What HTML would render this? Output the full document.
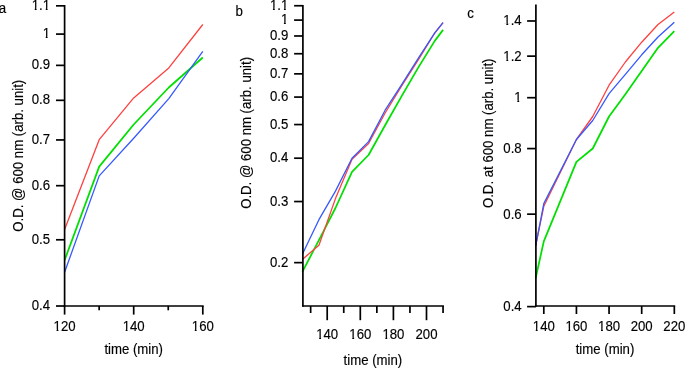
<!DOCTYPE html>
<html><head><meta charset="utf-8"><style>
html,body{margin:0;padding:0;background:#fff;}
svg{display:block;font-family:"Liberation Sans", sans-serif;will-change:transform;}
text{fill:#000;stroke:#000;stroke-width:0.15px;}
</style></head><body>
<svg width="685" height="368" viewBox="0 0 685 368">
<polyline points="64.60,260.20 99.20,166.60 133.70,124.50 168.80,87.50 202.80,57.50" fill="none" stroke="#00e000" stroke-width="1.75" stroke-linejoin="round" stroke-linecap="butt"/>
<polyline points="64.60,229.50 99.20,139.70 133.70,97.90 168.80,67.90 202.80,24.50" fill="none" stroke="#ff4040" stroke-width="1.3" stroke-linejoin="round" stroke-linecap="butt"/>
<polyline points="64.60,272.20 99.20,175.90 133.70,138.20 168.80,98.60 202.80,51.40" fill="none" stroke="#3658ff" stroke-width="1.3" stroke-linejoin="round" stroke-linecap="butt"/>
<line x1="64.60" y1="4.97" x2="64.60" y2="306.85" stroke="#000" stroke-width="1.7"/>
<line x1="63.75" y1="306.00" x2="203.65" y2="306.00" stroke="#000" stroke-width="1.7"/>
<line x1="56.00" y1="306.01" x2="64.60" y2="306.01" stroke="#000" stroke-width="1.7"/>
<g transform="translate(50.10,310.01) scale(1,1.04)"><text text-anchor="end" font-size="13.2" >0.4</text></g>
<line x1="56.00" y1="239.79" x2="64.60" y2="239.79" stroke="#000" stroke-width="1.7"/>
<g transform="translate(50.10,243.79) scale(1,1.04)"><text text-anchor="end" font-size="13.2" >0.5</text></g>
<line x1="56.00" y1="185.69" x2="64.60" y2="185.69" stroke="#000" stroke-width="1.7"/>
<g transform="translate(50.10,189.69) scale(1,1.04)"><text text-anchor="end" font-size="13.2" >0.6</text></g>
<line x1="56.00" y1="139.94" x2="64.60" y2="139.94" stroke="#000" stroke-width="1.7"/>
<g transform="translate(50.10,143.94) scale(1,1.04)"><text text-anchor="end" font-size="13.2" >0.7</text></g>
<line x1="56.00" y1="100.32" x2="64.60" y2="100.32" stroke="#000" stroke-width="1.7"/>
<g transform="translate(50.10,104.32) scale(1,1.04)"><text text-anchor="end" font-size="13.2" >0.8</text></g>
<line x1="56.00" y1="65.37" x2="64.60" y2="65.37" stroke="#000" stroke-width="1.7"/>
<g transform="translate(50.10,69.37) scale(1,1.04)"><text text-anchor="end" font-size="13.2" >0.9</text></g>
<line x1="56.00" y1="34.10" x2="64.60" y2="34.10" stroke="#000" stroke-width="1.7"/>
<g transform="translate(50.10,38.10) scale(1,1.04)"><text text-anchor="end" font-size="13.2" >1</text><rect x="-7.17" y="-1.99" width="2.80" height="3.59" fill="#fff"/><rect x="-2.50" y="-1.99" width="2.35" height="3.59" fill="#fff"/></g>
<line x1="56.00" y1="5.82" x2="64.60" y2="5.82" stroke="#000" stroke-width="1.7"/>
<g transform="translate(50.10,9.82) scale(1,1.04)"><text text-anchor="end" font-size="13.2" >1.1</text><rect x="-18.17" y="-1.99" width="2.80" height="3.59" fill="#fff"/><rect x="-13.50" y="-1.99" width="2.35" height="3.59" fill="#fff"/><rect x="-7.17" y="-1.99" width="2.80" height="3.59" fill="#fff"/><rect x="-2.50" y="-1.99" width="2.35" height="3.59" fill="#fff"/></g>
<line x1="64.60" y1="306.00" x2="64.60" y2="314.60" stroke="#000" stroke-width="1.7"/>
<g transform="translate(64.60,331.00) scale(1,1.04)"><text text-anchor="middle" font-size="13.2" >120</text><rect x="-10.84" y="-1.99" width="2.80" height="3.59" fill="#fff"/><rect x="-6.17" y="-1.99" width="2.35" height="3.59" fill="#fff"/></g>
<line x1="99.15" y1="306.00" x2="99.15" y2="310.30" stroke="#000" stroke-width="1.7"/>
<line x1="133.70" y1="306.00" x2="133.70" y2="314.60" stroke="#000" stroke-width="1.7"/>
<g transform="translate(133.70,331.00) scale(1,1.04)"><text text-anchor="middle" font-size="13.2" >140</text><rect x="-10.84" y="-1.99" width="2.80" height="3.59" fill="#fff"/><rect x="-6.17" y="-1.99" width="2.35" height="3.59" fill="#fff"/></g>
<line x1="168.25" y1="306.00" x2="168.25" y2="310.30" stroke="#000" stroke-width="1.7"/>
<line x1="202.80" y1="306.00" x2="202.80" y2="314.60" stroke="#000" stroke-width="1.7"/>
<g transform="translate(202.80,331.00) scale(1,1.04)"><text text-anchor="middle" font-size="13.2" >160</text><rect x="-10.84" y="-1.99" width="2.80" height="3.59" fill="#fff"/><rect x="-6.17" y="-1.99" width="2.35" height="3.59" fill="#fff"/></g>
<g transform="translate(133.70,354.00) scale(1,1.04)"><text text-anchor="middle" font-size="13.2" >time (min)</text></g>
<g transform="translate(22.80,155.70) rotate(-90) scale(1,1.04)"><text text-anchor="middle" font-size="13.2" >O.D. @ 600 nm (arb. unit)</text></g>
<g transform="translate(-1.20,12.90) scale(1,1.04)"><text text-anchor="start" font-size="13.3" >a</text></g>
<polyline points="302.38,271.80 318.93,240.10 335.47,208.00 352.02,171.80 368.57,155.00 385.12,125.30 401.67,96.10 418.23,67.60 434.77,40.90 443.05,29.90" fill="none" stroke="#00e000" stroke-width="1.75" stroke-linejoin="round" stroke-linecap="butt"/>
<polyline points="302.38,259.40 318.93,245.20 335.47,198.60 352.02,159.30 368.57,143.50 385.12,113.00 401.67,85.80 418.23,59.90 434.77,33.00 443.05,22.70" fill="none" stroke="#ff4040" stroke-width="1.3" stroke-linejoin="round" stroke-linecap="butt"/>
<polyline points="302.38,254.30 318.93,219.70 335.47,191.10 352.02,158.20 368.57,141.60 385.12,110.20 401.67,84.70 418.23,58.30 434.77,32.80 443.05,22.70" fill="none" stroke="#3658ff" stroke-width="1.3" stroke-linejoin="round" stroke-linecap="butt"/>
<line x1="302.90" y1="4.89" x2="302.90" y2="306.85" stroke="#000" stroke-width="1.7"/>
<line x1="302.05" y1="306.00" x2="443.90" y2="306.00" stroke="#000" stroke-width="1.7"/>
<line x1="294.10" y1="262.64" x2="302.90" y2="262.64" stroke="#000" stroke-width="1.7"/>
<g transform="translate(288.30,266.64) scale(1,1.04)"><text text-anchor="end" font-size="13.2" >0.2</text></g>
<line x1="294.10" y1="201.54" x2="302.90" y2="201.54" stroke="#000" stroke-width="1.7"/>
<g transform="translate(288.30,205.54) scale(1,1.04)"><text text-anchor="end" font-size="13.2" >0.3</text></g>
<line x1="294.10" y1="158.19" x2="302.90" y2="158.19" stroke="#000" stroke-width="1.7"/>
<g transform="translate(288.30,162.19) scale(1,1.04)"><text text-anchor="end" font-size="13.2" >0.4</text></g>
<line x1="294.10" y1="124.56" x2="302.90" y2="124.56" stroke="#000" stroke-width="1.7"/>
<g transform="translate(288.30,128.56) scale(1,1.04)"><text text-anchor="end" font-size="13.2" >0.5</text></g>
<line x1="294.10" y1="97.08" x2="302.90" y2="97.08" stroke="#000" stroke-width="1.7"/>
<g transform="translate(288.30,101.08) scale(1,1.04)"><text text-anchor="end" font-size="13.2" >0.6</text></g>
<line x1="294.10" y1="73.85" x2="302.90" y2="73.85" stroke="#000" stroke-width="1.7"/>
<g transform="translate(288.30,77.85) scale(1,1.04)"><text text-anchor="end" font-size="13.2" >0.7</text></g>
<line x1="294.10" y1="53.73" x2="302.90" y2="53.73" stroke="#000" stroke-width="1.7"/>
<g transform="translate(288.30,57.73) scale(1,1.04)"><text text-anchor="end" font-size="13.2" >0.8</text></g>
<line x1="294.10" y1="35.98" x2="302.90" y2="35.98" stroke="#000" stroke-width="1.7"/>
<g transform="translate(288.30,39.98) scale(1,1.04)"><text text-anchor="end" font-size="13.2" >0.9</text></g>
<line x1="294.10" y1="20.10" x2="302.90" y2="20.10" stroke="#000" stroke-width="1.7"/>
<g transform="translate(288.30,24.10) scale(1,1.04)"><text text-anchor="end" font-size="13.2" >1</text><rect x="-7.17" y="-1.99" width="2.80" height="3.59" fill="#fff"/><rect x="-2.50" y="-1.99" width="2.35" height="3.59" fill="#fff"/></g>
<line x1="294.10" y1="5.74" x2="302.90" y2="5.74" stroke="#000" stroke-width="1.7"/>
<g transform="translate(288.30,9.74) scale(1,1.04)"><text text-anchor="end" font-size="13.2" >1.1</text><rect x="-18.17" y="-1.99" width="2.80" height="3.59" fill="#fff"/><rect x="-13.50" y="-1.99" width="2.35" height="3.59" fill="#fff"/><rect x="-7.17" y="-1.99" width="2.80" height="3.59" fill="#fff"/><rect x="-2.50" y="-1.99" width="2.35" height="3.59" fill="#fff"/></g>
<line x1="310.65" y1="306.00" x2="310.65" y2="313.00" stroke="#000" stroke-width="1.7"/>
<line x1="327.20" y1="306.00" x2="327.20" y2="320.20" stroke="#000" stroke-width="1.7"/>
<g transform="translate(327.20,339.20) scale(1,1.04)"><text text-anchor="middle" font-size="13.2" >140</text><rect x="-10.84" y="-1.99" width="2.80" height="3.59" fill="#fff"/><rect x="-6.17" y="-1.99" width="2.35" height="3.59" fill="#fff"/></g>
<line x1="343.75" y1="306.00" x2="343.75" y2="313.00" stroke="#000" stroke-width="1.7"/>
<line x1="360.30" y1="306.00" x2="360.30" y2="320.20" stroke="#000" stroke-width="1.7"/>
<g transform="translate(360.30,339.20) scale(1,1.04)"><text text-anchor="middle" font-size="13.2" >160</text><rect x="-10.84" y="-1.99" width="2.80" height="3.59" fill="#fff"/><rect x="-6.17" y="-1.99" width="2.35" height="3.59" fill="#fff"/></g>
<line x1="376.85" y1="306.00" x2="376.85" y2="313.00" stroke="#000" stroke-width="1.7"/>
<line x1="393.40" y1="306.00" x2="393.40" y2="320.20" stroke="#000" stroke-width="1.7"/>
<g transform="translate(393.40,339.20) scale(1,1.04)"><text text-anchor="middle" font-size="13.2" >180</text><rect x="-10.84" y="-1.99" width="2.80" height="3.59" fill="#fff"/><rect x="-6.17" y="-1.99" width="2.35" height="3.59" fill="#fff"/></g>
<line x1="409.95" y1="306.00" x2="409.95" y2="313.00" stroke="#000" stroke-width="1.7"/>
<line x1="426.50" y1="306.00" x2="426.50" y2="320.20" stroke="#000" stroke-width="1.7"/>
<g transform="translate(426.50,339.20) scale(1,1.04)"><text text-anchor="middle" font-size="13.2" >200</text></g>
<line x1="443.05" y1="306.00" x2="443.05" y2="313.00" stroke="#000" stroke-width="1.7"/>
<g transform="translate(372.90,364.50) scale(1,1.04)"><text text-anchor="middle" font-size="13.2" >time (min)</text></g>
<g transform="translate(250.70,132.90) rotate(-90) scale(1,1.04)"><text text-anchor="middle" font-size="13.2" >O.D. @ 600 nm (arb. unit)</text></g>
<g transform="translate(235.50,15.80) scale(1,1.04)"><text text-anchor="start" font-size="13.3" >b</text></g>
<polyline points="535.64,278.20 543.80,241.40 576.43,161.90 592.75,148.50 609.06,116.50 625.38,94.30 641.69,71.10 658.00,47.80 674.32,31.10" fill="none" stroke="#00e000" stroke-width="1.75" stroke-linejoin="round" stroke-linecap="butt"/>
<polyline points="535.64,245.50 543.80,206.30 576.43,139.50 592.75,116.50 609.06,85.20 625.38,62.00 641.69,42.20 658.00,24.50 674.32,12.00" fill="none" stroke="#ff4040" stroke-width="1.3" stroke-linejoin="round" stroke-linecap="butt"/>
<polyline points="535.64,246.10 543.80,203.60 576.43,139.50 592.75,120.50 609.06,93.70 625.38,74.30 641.69,54.80 658.00,37.00 674.32,22.20" fill="none" stroke="#3658ff" stroke-width="1.3" stroke-linejoin="round" stroke-linecap="butt"/>
<line x1="535.90" y1="4.40" x2="535.90" y2="306.85" stroke="#000" stroke-width="1.7"/>
<line x1="535.05" y1="306.00" x2="675.17" y2="306.00" stroke="#000" stroke-width="1.7"/>
<line x1="527.10" y1="306.62" x2="535.90" y2="306.62" stroke="#000" stroke-width="1.7"/>
<g transform="translate(521.70,311.02) scale(1,1.04)"><text text-anchor="end" font-size="13.2" >0.4</text></g>
<line x1="527.10" y1="214.17" x2="535.90" y2="214.17" stroke="#000" stroke-width="1.7"/>
<g transform="translate(521.70,218.57) scale(1,1.04)"><text text-anchor="end" font-size="13.2" >0.6</text></g>
<line x1="527.10" y1="148.58" x2="535.90" y2="148.58" stroke="#000" stroke-width="1.7"/>
<g transform="translate(521.70,152.98) scale(1,1.04)"><text text-anchor="end" font-size="13.2" >0.8</text></g>
<line x1="527.10" y1="97.70" x2="535.90" y2="97.70" stroke="#000" stroke-width="1.7"/>
<g transform="translate(521.70,102.10) scale(1,1.04)"><text text-anchor="end" font-size="13.2" >1</text><rect x="-7.17" y="-1.99" width="2.80" height="3.59" fill="#fff"/><rect x="-2.50" y="-1.99" width="2.35" height="3.59" fill="#fff"/></g>
<line x1="527.10" y1="56.13" x2="535.90" y2="56.13" stroke="#000" stroke-width="1.7"/>
<g transform="translate(521.70,60.53) scale(1,1.04)"><text text-anchor="end" font-size="13.2" >1.2</text><rect x="-18.17" y="-1.99" width="2.80" height="3.59" fill="#fff"/><rect x="-13.50" y="-1.99" width="2.35" height="3.59" fill="#fff"/></g>
<line x1="527.10" y1="20.98" x2="535.90" y2="20.98" stroke="#000" stroke-width="1.7"/>
<g transform="translate(521.70,25.38) scale(1,1.04)"><text text-anchor="end" font-size="13.2" >1.4</text><rect x="-18.17" y="-1.99" width="2.80" height="3.59" fill="#fff"/><rect x="-13.50" y="-1.99" width="2.35" height="3.59" fill="#fff"/></g>
<line x1="543.80" y1="306.00" x2="543.80" y2="314.00" stroke="#000" stroke-width="1.7"/>
<g transform="translate(543.80,330.50) scale(1,1.04)"><text text-anchor="middle" font-size="13.2" >140</text><rect x="-10.84" y="-1.99" width="2.80" height="3.59" fill="#fff"/><rect x="-6.17" y="-1.99" width="2.35" height="3.59" fill="#fff"/></g>
<line x1="576.43" y1="306.00" x2="576.43" y2="314.00" stroke="#000" stroke-width="1.7"/>
<g transform="translate(576.43,330.50) scale(1,1.04)"><text text-anchor="middle" font-size="13.2" >160</text><rect x="-10.84" y="-1.99" width="2.80" height="3.59" fill="#fff"/><rect x="-6.17" y="-1.99" width="2.35" height="3.59" fill="#fff"/></g>
<line x1="609.06" y1="306.00" x2="609.06" y2="314.00" stroke="#000" stroke-width="1.7"/>
<g transform="translate(609.06,330.50) scale(1,1.04)"><text text-anchor="middle" font-size="13.2" >180</text><rect x="-10.84" y="-1.99" width="2.80" height="3.59" fill="#fff"/><rect x="-6.17" y="-1.99" width="2.35" height="3.59" fill="#fff"/></g>
<line x1="641.69" y1="306.00" x2="641.69" y2="314.00" stroke="#000" stroke-width="1.7"/>
<g transform="translate(641.69,330.50) scale(1,1.04)"><text text-anchor="middle" font-size="13.2" >200</text></g>
<line x1="674.32" y1="306.00" x2="674.32" y2="314.00" stroke="#000" stroke-width="1.7"/>
<g transform="translate(674.32,330.50) scale(1,1.04)"><text text-anchor="middle" font-size="13.2" >220</text></g>
<g transform="translate(605.00,353.70) scale(1,1.04)"><text text-anchor="middle" font-size="13.2" >time (min)</text></g>
<g transform="translate(493.20,133.30) rotate(-90) scale(1,1.04)"><text text-anchor="middle" font-size="13.2" >O.D. at 600 nm (arb. unit)</text></g>
<g transform="translate(467.30,17.60) scale(1,1.04)"><text text-anchor="start" font-size="13.3" >c</text></g>
</svg></body></html>
